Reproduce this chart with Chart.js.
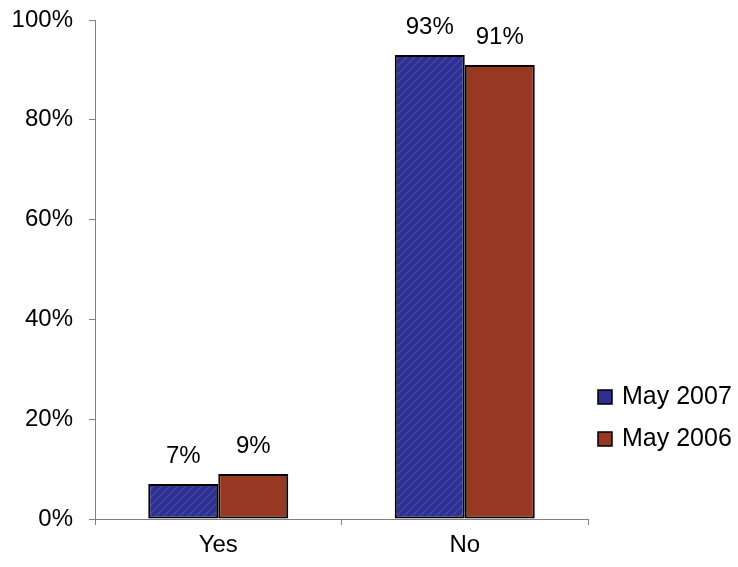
<!DOCTYPE html>
<html><head><meta charset="utf-8">
<script src="https://cdn.jsdelivr.net/npm/chart.js@4/dist/chart.umd.min.js"></script>
<style>html,body{margin:0;padding:0;background:#fff}#wrap{width:738px;height:567px;position:relative}</style>
</head><body><div id="wrap"><canvas id="c" width="738" height="567"></canvas></div>
<script>
const categories = ["Yes", "No"];
const seriesNames = ["May 2007", "May 2006"];
const may2007 = [7, 93];
const may2006 = [9, 91];
const valueLabels2007 = ["7%", "93%"];
const valueLabels2006 = ["9%", "91%"];
const yTicks = [0, 20, 40, 60, 80, 100];

const FONT = "'Liberation Sans', Arial, sans-serif";

function hatch() {
  const p = document.createElement('canvas');
  p.width = 8; p.height = 8;
  const g = p.getContext('2d');
  g.fillStyle = '#2E3090';
  g.fillRect(0, 0, 8, 8);
  g.strokeStyle = '#4346A6';
  g.lineWidth = 1.5;
  g.beginPath();
  g.moveTo(0, 8); g.lineTo(8, 0);
  g.moveTo(-4, 4); g.lineTo(4, -4);
  g.moveTo(4, 12); g.lineTo(12, 4);
  g.stroke();
  return g.createPattern(p, 'repeat');
}
const ctx0 = document.getElementById('c').getContext('2d');
const blue = hatch();
const red = '#973822';
const swatch = ['#2E3090', red];

const labelsPlugin = {
  id: 'vlabels',
  afterDatasetsDraw(chart) {
    const c = chart.ctx;
    c.save();
    c.font = '24px ' + FONT;
    c.fillStyle = '#000';
    c.textAlign = 'center';
    c.textBaseline = 'middle';
    const lbls = [valueLabels2007, valueLabels2006];
    chart.data.datasets.forEach((ds, di) => {
      chart.getDatasetMeta(di).data.forEach((bar, i) => {
        c.fillText(lbls[di][i], bar.x, bar.y - 28);
      });
    });
    // legend
    const x0 = 598, ys = [397, 439];
    c.textAlign = 'left';
    c.font = '25px ' + FONT;
    chart.data.datasets.forEach((ds, di) => {
      c.fillStyle = swatch[di];
      c.fillRect(x0, ys[di] - 7, 14, 14);
      c.strokeStyle = '#000';
      c.lineWidth = 1.5;
      c.strokeRect(x0, ys[di] - 7, 14, 14);
      c.fillStyle = '#000';
      c.fillText(ds.label, x0 + 24, ys[di]);
    });
    c.restore();
  }
};

new Chart(ctx0, {
  type: 'bar',
  data: {
    labels: categories,
    datasets: [
      { label: seriesNames[0], data: may2007, backgroundColor: blue, borderColor: '#000', borderWidth: 2, borderSkipped: false },
      { label: seriesNames[1], data: may2006, backgroundColor: red, borderColor: '#000', borderWidth: 2, borderSkipped: false }
    ]
  },
  options: {
    responsive: false,
    animation: false,
    devicePixelRatio: 1,
    layout: { padding: { left: 0, right: 150, top: 20, bottom: 0 } },
    plugins: { legend: { display: false }, tooltip: { enabled: false } },
    datasets: { bar: { barPercentage: 1, categoryPercentage: 0.568 } },
    scales: {
      x: {
        grid: { display: true, drawOnChartArea: false, drawTicks: true, tickLength: 6, color: '#808080', offset: true },
        border: { color: '#808080', width: 1 },
        ticks: { font: { family: FONT, size: 24 }, color: '#000', padding: 6 },
        afterFit(s) { s.height = 48; s.paddingLeft = 0; s.paddingRight = 0; }
      },
      y: {
        min: 0, max: 100,
        afterBuildTicks(s) { s.ticks = yTicks.map(v => ({ value: v })); },
        grid: { display: true, drawOnChartArea: false, drawTicks: true, tickLength: 6, color: '#808080' },
        border: { color: '#808080', width: 1 },
        ticks: { font: { family: FONT, size: 24 }, color: '#000', padding: 16, callback: v => v + '%' },
        afterFit(s) { s.width = 95; s.paddingTop = 0; s.paddingBottom = 0; }
      }
    }
  },
  plugins: [labelsPlugin]
});
</script></body></html>
